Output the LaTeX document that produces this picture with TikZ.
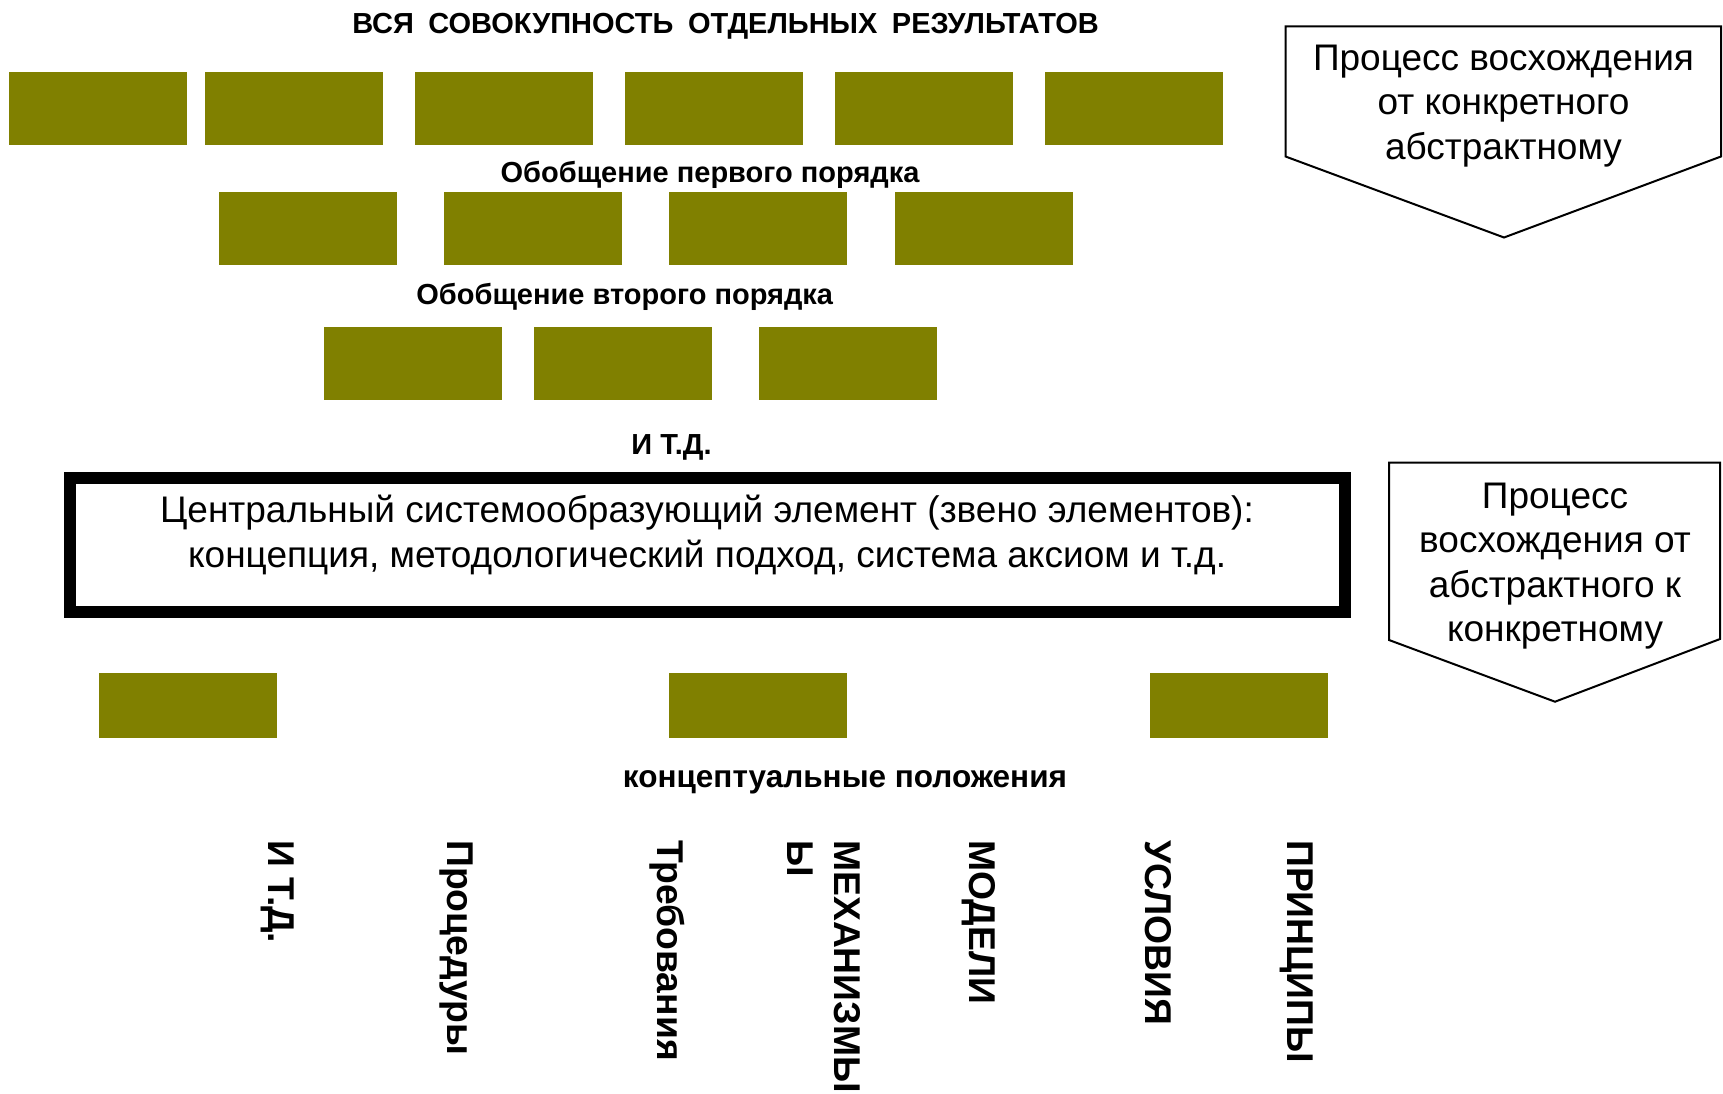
\documentclass[tikz,border=0pt]{standalone}
\usepackage{fontspec}
\setmainfont{Liberation Sans}
\definecolor{olivefill}{RGB}{128,128,0}
\begin{document}
\begin{tikzpicture}[x=1pt,y=-1pt,
  obox/.style={fill=olivefill, draw=none, inner sep=0pt, minimum width=178pt, minimum height=73pt},
  lowbox/.style={obox, minimum height=65pt},
  lbl/.style={font=\fontsize{29}{35}\selectfont\bfseries, inner sep=0pt, anchor=base},
  rot/.style={font=\fontsize{37.3}{45}\selectfont\bfseries, inner sep=0pt, rotate=-90, anchor=base west},
  ptext/.style={font=\fontsize{37}{44.5}\selectfont, align=center, inner sep=0pt},
  pent/.style={draw=black, line width=2pt, line join=miter}
]
\useasboundingbox (0,0) rectangle (1723,1094);

% title
\node[lbl] (title) at (725.5,34) {ВСЯ\hspace{0.5em}СОВОКУПНОСТЬ\hspace{0.5em}ОТДЕЛЬНЫХ\hspace{0.5em}РЕЗУЛЬТАТОВ};

% row 1
\node[obox] (r1a) at (98,109) {};
\node[obox] (r1b) at (294,109) {};
\node[obox] (r1c) at (504,109) {};
\node[obox] (r1d) at (714,109) {};
\node[obox] (r1e) at (924,109) {};
\node[obox] (r1f) at (1134,109) {};

\node[lbl] (g1) at (710,183) {Обобщение первого порядка};

% row 2
\node[obox] (r2a) at (307.7,228.5) {};
\node[obox] (r2b) at (533,228.5) {};
\node[obox] (r2c) at (758.2,228.5) {};
\node[obox] (r2d) at (983.5,228.5) {};

\node[lbl] (g2) at (624.7,304) {Обобщение второго порядка};

% row 3
\node[obox] (r3a) at (413.2,363.7) {};
\node[obox] (r3b) at (623.1,363.7) {};
\node[obox] (r3c) at (848.4,363.7) {};

\node[lbl] (etc) at (671.5,454) {И Т.Д.};

% central element
\node[draw=black, line width=12pt, inner sep=0pt, minimum width=1274.7pt, minimum height=134.5pt] (core) at (707.35,545) {};
\node[ptext] (coretext) at (707,535) {Центральный системообразующий элемент (звено элементов):\\концепция, методологический подход, система аксиом и т.д.};

% bottom boxes
\node[lowbox] (b1) at (187.9,705) {};
\node[lowbox] (b2) at (758.2,705) {};
\node[lowbox] (b3) at (1238.5,705) {};

\node[lbl, font=\fontsize{31.5}{38}\selectfont\bfseries] (conc) at (845,787) {концептуальные положения};

% rotated labels
\node[rot] (v1) at (268,840) {И Т.Д.};
\node[rot] (v2) at (447,840) {Процедуры};
\node[rot] (v3) at (657,840) {Требования};
\node[rot] (v4) at (834,840) {МЕХАНИЗМЫ};
\node[rot] (v4b) at (787,840) {Ы};
\node[rot] (v5) at (969,840) {МОДЕЛИ};
\node[rot] (v6) at (1145,840) {УСЛОВИЯ};
\node[rot] (v7) at (1287,840) {ПРИНЦИПЫ};

% pentagon arrows
\draw[pent] (1285.5,26.5) -- (1721,26.5) -- (1721,156.5) -- (1504,237.5) -- (1285.5,156.5) -- cycle;
\node[ptext] (up) at (1503.5,106) {Процесс восхождения\\от конкретного\\абстрактному};

\draw[pent] (1389,462.7) -- (1720,462.7) -- (1720,639) -- (1555,701.7) -- (1389,640) -- cycle;
\node[ptext] (down) at (1555,566) {Процесс\\восхождения от\\абстрактного к\\конкретному};
\end{tikzpicture}
\end{document}
